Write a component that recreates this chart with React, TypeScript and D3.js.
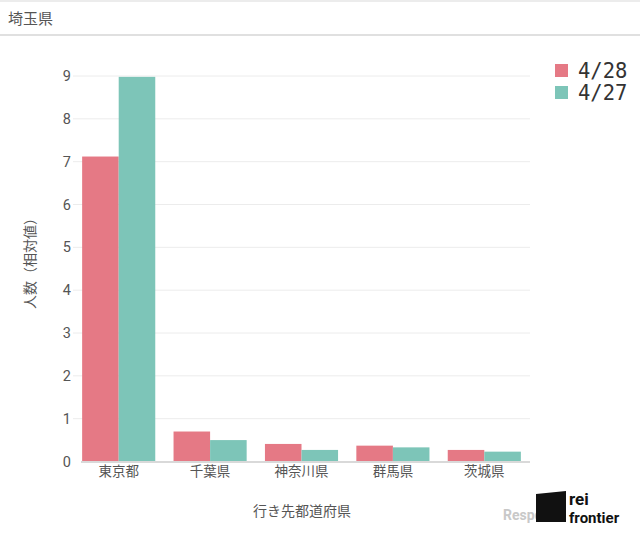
import * as d3 from "d3";
import React, { useEffect, useRef } from "react";

// data
const prefectures = ["東京都", "千葉県", "神奈川県", "群馬県", "茨城県"];
const seriesNames = ["4/28", "4/27"];
const values428 = [7.12, 0.7, 0.41, 0.37, 0.27];
const values427 = [8.98, 0.5, 0.27, 0.33, 0.23];
const yTicks = [0, 1, 2, 3, 4, 5, 6, 7, 8, 9];
const colors = ["#e57985", "#7dc5b8"];

const W = 640;
const H = 535;
const FONT = "Roboto, 'Noto Sans CJK JP', sans-serif";

const App: React.FC = () => {
  const ref = useRef<SVGSVGElement | null>(null);

  useEffect(() => {
    if (!ref.current) return;
    const svg = d3.select(ref.current);
    svg.selectAll("*").remove();

    // header
    svg.append("rect").attr("width", W).attr("height", H).attr("fill", "#fff");
    svg.append("line").attr("x1", 0).attr("x2", W).attr("y1", 1).attr("y2", 1)
      .attr("stroke", "#ececec").attr("stroke-width", 2);
    svg.append("line").attr("x1", 0).attr("x2", W).attr("y1", 35).attr("y2", 35)
      .attr("stroke", "#d6d6d6").attr("stroke-width", 1.5);
    svg.append("text").attr("x", 8).attr("y", 24)
      .style("font-family", FONT).style("font-size", "15px").attr("fill", "#555")
      .text("埼玉県");

    const x = d3.scaleBand<string>()
      .domain(prefectures)
      .range([73, 530])
      .paddingInner(0.2)
      .paddingOuter(0.1);
    const xs = d3.scaleBand<string>()
      .domain(seriesNames)
      .range([0, x.bandwidth()]);
    const y = d3.scaleLinear().domain([0, 9]).range([461.5, 76]);

    // grid
    const grid = svg.append("g");
    grid.selectAll("line")
      .data(yTicks.filter((t) => t > 0))
      .enter()
      .append("line")
      .attr("x1", 73).attr("x2", 530)
      .attr("y1", (d) => y(d)).attr("y2", (d) => y(d))
      .attr("stroke", "#ececec").attr("stroke-width", 1);

    // y tick labels
    svg.append("g").selectAll("text")
      .data(yTicks)
      .enter()
      .append("text")
      .attr("x", 71)
      .attr("y", (d) => y(d))
      .attr("dy", "0.35em")
      .attr("text-anchor", "end")
      .style("font-family", FONT).style("font-size", "14.5px").attr("fill", "#555")
      .text((d) => d);

    // bars
    const series = [values428, values427];
    series.forEach((vals, si) => {
      svg.append("g").selectAll("rect")
        .data(prefectures)
        .enter()
        .append("rect")
        .attr("x", (d) => x(d)! + xs(seriesNames[si])!)
        .attr("y", (_d, i) => y(vals[i]))
        .attr("width", xs.bandwidth())
        .attr("height", (_d, i) => y(0) - y(vals[i]))
        .attr("fill", colors[si]);
    });

    // x axis line
    svg.append("line").attr("x1", 81).attr("x2", 530)
      .attr("y1", y(0) + 0.5).attr("y2", y(0) + 0.5)
      .attr("stroke", "#d9d9d9").attr("stroke-width", 2);

    // x labels
    svg.append("g").selectAll("text")
      .data(prefectures)
      .enter()
      .append("text")
      .attr("x", (d) => x(d)! + x.bandwidth() / 2)
      .attr("y", 476)
      .attr("text-anchor", "middle")
      .style("font-family", FONT).style("font-size", "13.5px").attr("fill", "#555")
      .text((d) => d);

    // axis titles
    svg.append("text")
      .attr("x", 302).attr("y", 516)
      .attr("text-anchor", "middle")
      .style("font-family", FONT).style("font-size", "14px").attr("fill", "#555")
      .text("行き先都道府県");
    svg.append("text")
      .attr("transform", `translate(35,260) rotate(-90)`)
      .attr("text-anchor", "middle")
      .style("font-family", FONT).style("font-size", "14px").attr("fill", "#555")
      .text("人数（相対値）");

    // legend
    const legend = svg.append("g").attr("transform", "translate(555,64)");
    seriesNames.forEach((name, i) => {
      legend.append("rect").attr("x", 0).attr("y", i * 22)
        .attr("width", 13).attr("height", 13).attr("fill", colors[i]);
      legend.append("text").attr("x", 23).attr("y", i * 22 + 14)
        .style("font-family", "'DejaVu Sans Mono', monospace")
        .style("font-size", "20.5px").attr("fill", "#333")
        .text(name);
    });

    // watermark
    const wm = svg.append("g");
    wm.append("text").attr("x", 503).attr("y", 520)
      .style("font-family", "Roboto, sans-serif").style("font-size", "14px")
      .style("font-weight", "bold").attr("fill", "#bbb").attr("opacity", 0.8)
      .text("Respo");
    wm.append("path").attr("d", "M536,494 L566,491 L566,522 L536,522 Z").attr("fill", "#111");
    wm.append("text").attr("x", 569).attr("y", 505)
      .style("font-family", "Roboto, sans-serif").style("font-size", "17px")
      .style("font-weight", "bold").attr("fill", "#111").text("rei");
    wm.append("text").attr("x", 569).attr("y", 523)
      .style("font-family", "Roboto, sans-serif").style("font-size", "15px")
      .style("font-weight", "bold").attr("fill", "#111").text("frontier");
  }, []);

  return (
    <svg
      ref={ref}
      width={W}
      height={H}
      style={{ position: "absolute", left: 0, top: 0 }}
    ></svg>
  );
};

export default App;
